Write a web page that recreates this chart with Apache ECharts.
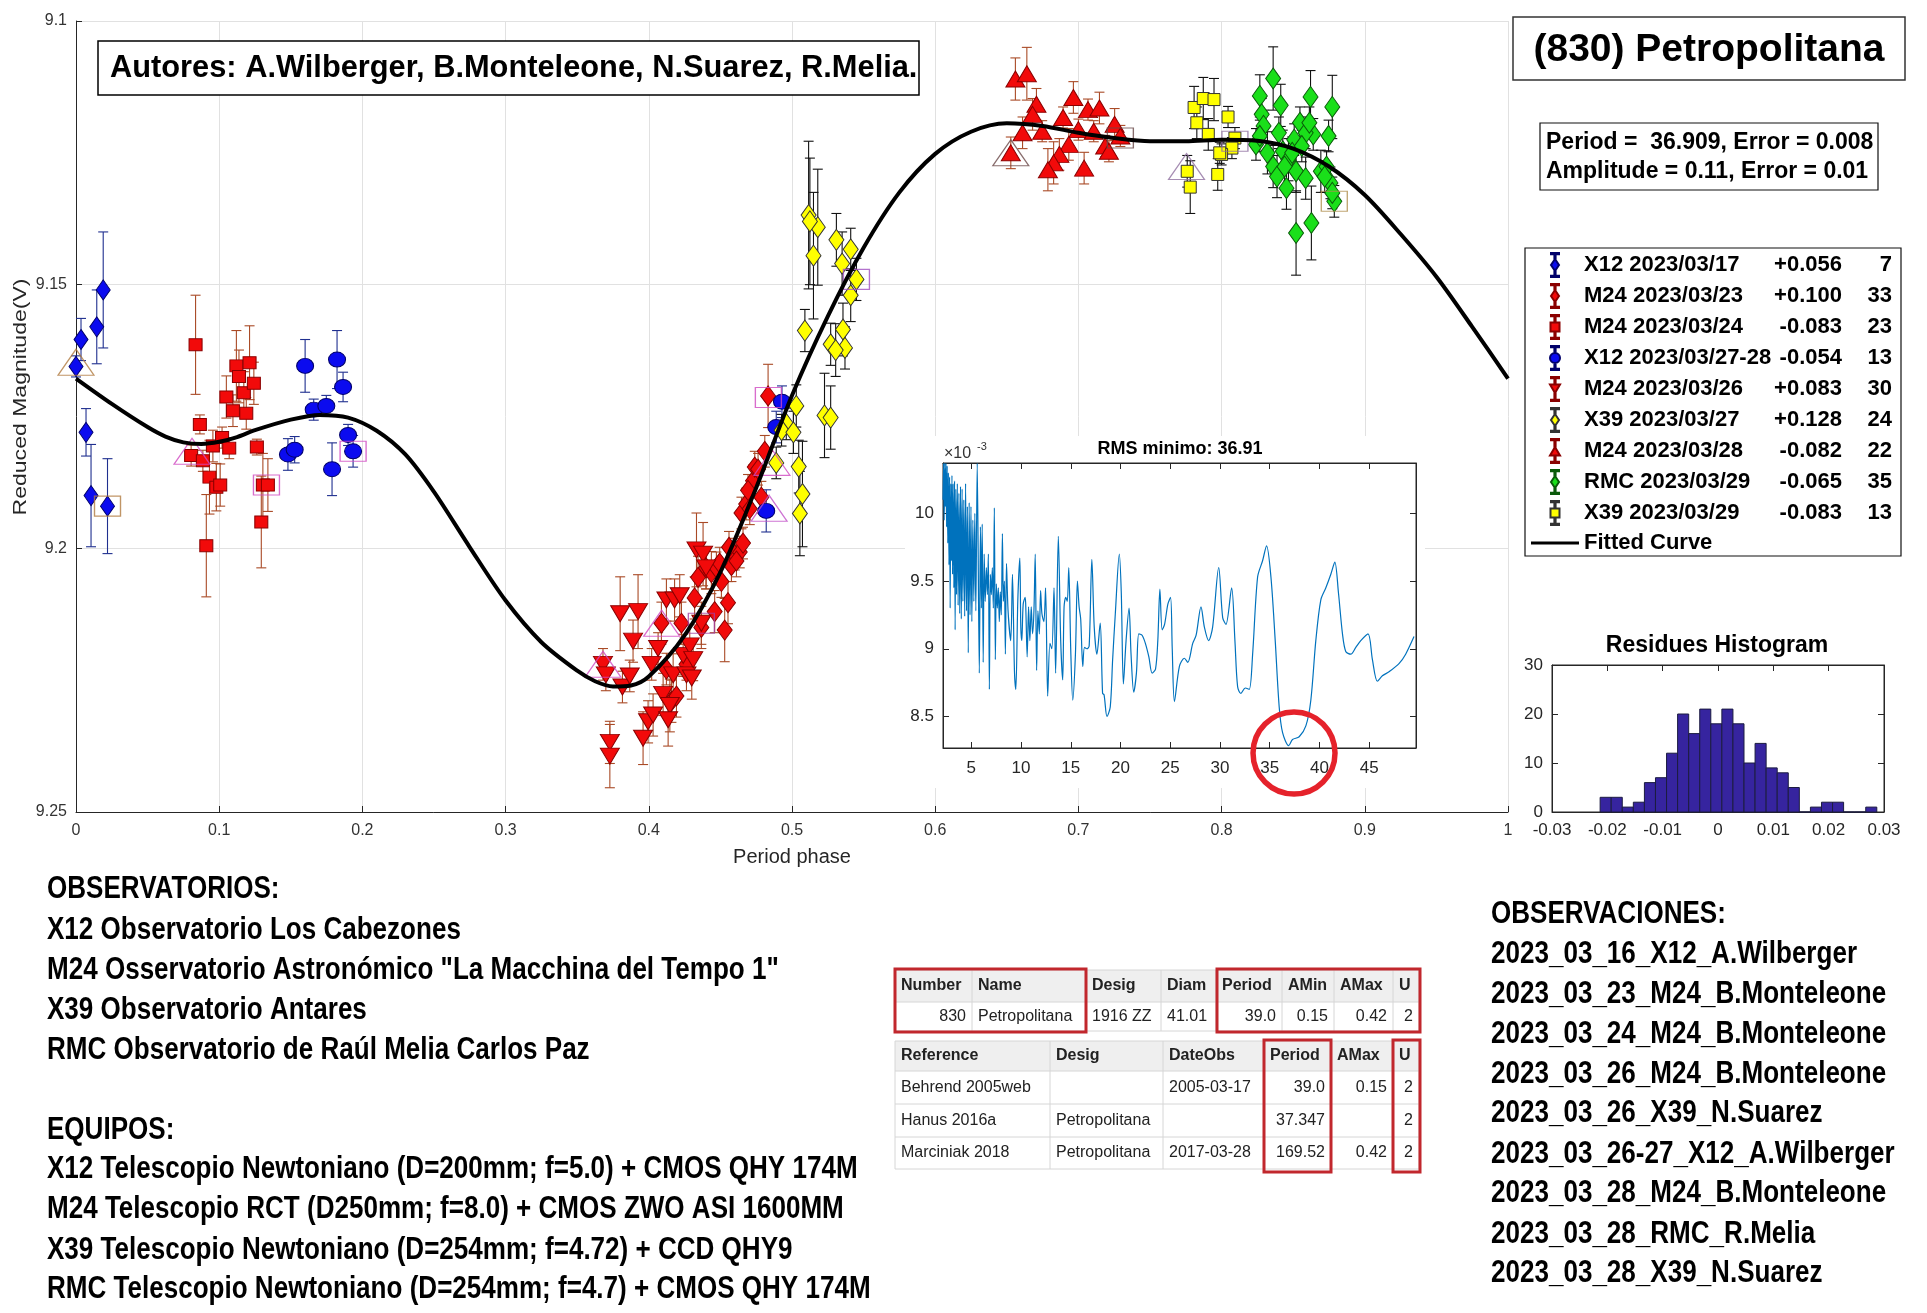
<!DOCTYPE html>
<html><head><meta charset="utf-8">
<script src="https://cdn.jsdelivr.net/npm/echarts@6/dist/echarts.min.js"></script>
<style>html,body{margin:0;padding:0;background:#fff}#c{width:1927px;height:1313px}</style>
</head><body><div id="c"></div>
<script>
// ---------------- DATA ----------------
// [phase, reduced magnitude, error]
const x12_0317 = [[0.000,9.1655,0.002],[0.0035,9.1604,0.004],[0.007,9.178,0.0045],[0.0105,9.190,0.0097],[0.0145,9.158,0.007],[0.019,9.151,0.011],[0.022,9.192,0.009]];
const m24_0323 = [[0.4088,9.2142,0.004],[0.4123,9.2229,0.003],[0.4158,9.229,0.004],[0.4193,9.228,0.004],[0.4228,9.2142,0.004],[0.4263,9.222,0.003],[0.432,9.2094,0.004],[0.4344,9.2055,0.004],[0.4367,9.215,0.004],[0.440,9.2037,0.004],[0.4437,9.2046,0.004],[0.446,9.212,0.004],[0.4472,9.2037,0.003],[0.4507,9.2063,0.003],[0.453,9.2155,0.006],[0.4553,9.2103,0.004],[0.4577,9.2033,0.003],[0.46,9.2011,0.003],[0.4635,9.2007,0.003],[0.4658,9.199,0.003],[0.4647,9.1933,0.003],[0.468,9.1916,0.003],[0.4705,9.1925,0.003],[0.4728,9.1872,0.003],[0.474,9.1846,0.003],[0.4763,9.185,0.003],[0.4786,9.1903,0.003],[0.481,9.1816,0.003],[0.4833,9.1711,0.006],[0.4612,9.2024,0.003],[0.4495,9.2028,0.003],[0.456,9.1998,0.003],[0.4693,9.189,0.003]];
const m24_0324 = [[0.0835,9.1614,0.0094],[0.0865,9.1765,0.0018],[0.0804,9.1824,0.002],[0.0886,9.1834,0.002],[0.091,9.1995,0.0097],[0.0932,9.1865,0.007],[0.0956,9.1806,0.003],[0.098,9.1884,0.0045],[0.1007,9.188,0.004],[0.102,9.179,0.002],[0.105,9.1713,0.004],[0.107,9.181,0.002],[0.1096,9.1739,0.003],[0.112,9.1654,0.0067],[0.1138,9.1674,0.005],[0.1172,9.1705,0.004],[0.1189,9.1744,0.003],[0.1212,9.1648,0.007],[0.1242,9.1687,0.004],[0.1263,9.1808,0.0015],[0.1294,9.195,0.0087],[0.1305,9.188,0.006],[0.134,9.188,0.005]];
const x12_0327 = [[0.148,9.1822,0.003],[0.1527,9.1813,0.0025],[0.16,9.1654,0.005],[0.166,9.1737,0.002],[0.1748,9.173,0.002],[0.1788,9.185,0.005],[0.1823,9.1642,0.0055],[0.1865,9.1694,0.0028],[0.19,9.1785,0.002],[0.1935,9.1816,0.003],[0.493,9.1722,0.003],[0.489,9.177,0.003],[0.482,9.1929,0.004]];
const m24_0326 = [[0.368,9.222,0.003],[0.370,9.224,0.003],[0.3728,9.2368,0.004],[0.3728,9.2394,0.006],[0.380,9.2124,0.007],[0.3816,9.2263,0.003],[0.3867,9.2242,0.003],[0.389,9.2176,0.004],[0.3925,9.212,0.007],[0.396,9.236,0.005],[0.3995,9.2329,0.004],[0.402,9.222,0.003],[0.4065,9.219,0.003],[0.410,9.2277,0.004],[0.4123,9.2098,0.004],[0.4147,9.2298,0.005],[0.417,9.224,0.004],[0.418,9.2098,0.004],[0.4216,9.209,0.004],[0.424,9.2203,0.004],[0.4263,9.224,0.003],[0.4286,9.2185,0.004],[0.430,9.2246,0.004],[0.4333,9.2003,0.007],[0.4367,9.2142,0.004],[0.4379,9.2011,0.006],[0.440,9.2037,0.004],[0.403,9.2316,0.004],[0.4135,9.2325,0.005],[0.431,9.2211,0.004]];
const x39_0327 = [[0.5116,9.1368,0.014],[0.518,9.1391,0.011],[0.515,9.1445,0.012],[0.531,9.1415,0.005],[0.541,9.1433,0.004],[0.535,9.146,0.006],[0.545,9.149,0.004],[0.541,9.152,0.005],[0.509,9.1587,0.004],[0.5356,9.1585,0.005],[0.527,9.1613,0.004],[0.537,9.162,0.004],[0.5305,9.1624,0.005],[0.5227,9.1748,0.008],[0.527,9.1752,0.006],[0.503,9.173,0.004],[0.496,9.1764,0.003],[0.4927,9.1776,0.003],[0.501,9.178,0.004],[0.489,9.1838,0.003],[0.5047,9.1845,0.005],[0.5073,9.1897,0.010],[0.5055,9.1934,0.008],[0.5125,9.1380,0.012]];
const m24_0328 = [[0.656,9.111,0.004],[0.664,9.110,0.005],[0.6707,9.1158,0.003],[0.668,9.1177,0.003],[0.661,9.1212,0.003],[0.6747,9.1209,0.002],[0.6528,9.125,0.003],[0.6893,9.1183,0.002],[0.6965,9.1145,0.003],[0.7067,9.1168,0.002],[0.7147,9.1165,0.003],[0.70,9.1206,0.002],[0.6933,9.1234,0.003],[0.6867,9.1253,0.003],[0.6827,9.1269,0.004],[0.6787,9.1282,0.004],[0.704,9.1279,0.003],[0.7107,9.1209,0.002],[0.7187,9.1237,0.002],[0.7253,9.1196,0.003],[0.7213,9.1247,0.002],[0.7293,9.1218,0.002]];
const rmc_0329 = [[0.8267,9.1142,0.004],[0.836,9.1109,0.006],[0.8413,9.116,0.004],[0.828,9.1177,0.003],[0.8621,9.1144,0.005],[0.8773,9.1163,0.006],[0.8293,9.1199,0.003],[0.84,9.1212,0.003],[0.824,9.1234,0.003],[0.832,9.125,0.004],[0.8547,9.1193,0.003],[0.864,9.1215,0.003],[0.8747,9.1218,0.003],[0.8587,9.1212,0.003],[0.8507,9.1225,0.003],[0.8427,9.1247,0.004],[0.8467,9.1263,0.004],[0.836,9.1276,0.004],[0.8387,9.1295,0.004],[0.8453,9.1317,0.004],[0.852,9.1285,0.004],[0.8587,9.1298,0.004],[0.8693,9.1285,0.004],[0.8733,9.1276,0.003],[0.876,9.1307,0.003],[0.8787,9.1342,0.003],[0.852,9.1402,0.008],[0.8627,9.1383,0.007],[0.8493,9.125,0.003],[0.856,9.1237,0.003],[0.8613,9.1193,0.003],[0.8267,9.1218,0.003],[0.844,9.1276,0.004],[0.872,9.1295,0.003],[0.8773,9.1326,0.003]];
const x39_0329 = [[0.7808,9.1164,0.004],[0.7872,9.1147,0.004],[0.7947,9.1149,0.004],[0.7827,9.1193,0.003],[0.7907,9.1215,0.003],[0.8045,9.1182,0.002],[0.8093,9.1222,0.002],[0.8072,9.1241,0.002],[0.80,9.1253,0.002],[0.776,9.1285,0.003],[0.7781,9.1315,0.005],[0.7973,9.1291,0.003],[0.7987,9.125,0.002]];

// hollow session markers
const markTri = [[0,9.1647],[0.081,9.1816],[0.368,9.222],[0.409,9.2142],[0.486,9.1837],[0.484,9.1924],[0.6528,9.125],[0.7755,9.1276]];
const markTriColors = ['#b07a40','#d048c0','#d048c0','#d048c0','#d048c0','#c050c8','#6a4848','#9070a0'];
const markSq = [[0.022,9.192],[0.133,9.188],[0.1935,9.1816],[0.4367,9.2142],[0.4835,9.1714],[0.545,9.149],[0.7293,9.1222],[0.8093,9.1228],[0.8787,9.1342]];
const markSqColors = ['#b07a40','#d048c0','#d048c0','#a040a0','#d048c0','#a050c0','#6a4848','#9070a0','#b09050'];

// fitted curve [phase, magnitude]
const curvePts = [[0,9.1678],[0.025,9.1726],[0.05,9.1770],[0.0625,9.1788],[0.075,9.1799],[0.0875,9.1802],[0.1,9.1798],[0.1125,9.1789],[0.125,9.1776],[0.15,9.1756],[0.17,9.1747],[0.19,9.1752],[0.21,9.1777],[0.23,9.1822],[0.25,9.1893],[0.275,9.1998],[0.3,9.2099],[0.325,9.2178],[0.35,9.2232],[0.3625,9.2252],[0.375,9.2262],[0.3875,9.2260],[0.4,9.2243],[0.425,9.2165],[0.45,9.2045],[0.475,9.1885],[0.5,9.1710],[0.525,9.1560],[0.55,9.1430],[0.575,9.1325],[0.6,9.1252],[0.625,9.1210],[0.65,9.1194],[0.675,9.1199],[0.7,9.1212],[0.725,9.1222],[0.75,9.1228],[0.775,9.1228],[0.8,9.1225],[0.825,9.1227],[0.85,9.1242],[0.875,9.1276],[0.9,9.1330],[0.925,9.1404],[0.95,9.1485],[0.975,9.1580],[1.0,9.1678]];

// RMS vs period (x1e-3)
const rmsPts = [[2.16,10.10],[2.22,10.37],[2.28,9.95],[2.34,10.37],[2.40,10.05],[2.46,10.37],[2.52,9.90],[2.58,10.35],[2.64,9.78],[2.70,10.30],[2.76,9.62],[2.82,10.27],[2.88,9.30],[2.94,10.22],[3.00,9.65],[3.06,10.28],[3.12,9.55],[3.18,10.22],[3.25,9.45],[3.32,10.24],[3.38,9.14],[3.45,10.18],[3.52,9.40],[3.60,10.22],[3.68,9.32],[3.76,10.15],[3.84,9.26],[3.92,10.20],[4.00,9.22],[4.08,10.18],[4.16,9.35],[4.25,10.10],[4.34,9.24],[4.43,10.22],[4.52,9.28],[4.61,10.05],[4.70,8.97],[4.79,10.08],[4.88,9.25],[4.97,10.05],[5.06,9.20],[5.16,9.95],[5.26,9.35],[5.36,10.00],[5.46,9.28],[5.60,10.37],[5.81,8.82],[5.92,9.90],[6.02,9.30],[6.10,9.92],[6.20,8.90],[6.30,9.70],[6.40,9.35],[6.52,9.60],[6.62,9.40],[6.72,9.70],[6.82,8.70],[6.92,9.55],[7.02,9.40],[7.12,9.60],[7.22,9.30],[7.32,10.04],[7.42,8.92],[7.52,9.48],[7.62,9.30],[7.72,9.45],[7.82,9.20],[7.92,9.42],[8.02,9.25],[8.13,9.85],[8.23,9.35],[8.33,9.50],[8.43,8.96],[8.54,9.63],[8.70,9.28],[8.97,9.06],[9.14,9.55],[9.34,8.84],[9.48,8.70],[9.68,9.36],[9.88,9.67],[9.98,9.16],[10.08,9.06],[10.22,9.33],[10.42,9.38],[10.49,9.28],[10.62,8.94],[10.76,9.31],[10.89,9.06],[11.03,9.31],[11.16,9.11],[11.30,9.28],[11.43,9.70],[11.57,8.84],[11.70,9.28],[11.84,9.11],[11.97,9.43],[12.10,9.26],[12.30,9.20],[12.47,9.45],[12.68,8.65],[12.91,9.04],[13.10,9.00],[13.32,9.45],[13.48,8.82],[13.75,9.83],[13.99,9.06],[14.19,8.77],[14.33,9.31],[14.50,9.38],[14.65,9.35],[14.80,9.60],[15.00,8.99],[15.20,8.62],[15.47,8.96],[15.67,9.50],[15.84,9.31],[16.0,9.22],[16.21,8.87],[16.38,9.01],[16.62,9.00],[16.85,9.02],[17.12,9.66],[17.36,9.16],[17.63,8.96],[17.96,9.19],[18.2,8.67],[18.35,8.66],[18.64,8.50],[18.97,8.57],[19.21,8.92],[19.48,9.26],[19.88,9.70],[20.08,9.41],[20.29,8.74],[20.56,9.06],[20.86,9.30],[21.06,8.96],[21.33,8.68],[21.6,8.82],[21.84,9.11],[22.17,9.10],[22.5,9.04],[22.85,8.94],[23.18,8.82],[23.52,8.85],[23.75,9.06],[23.96,9.44],[24.19,9.14],[24.43,9.18],[24.76,9.33],[25.03,9.38],[25.2,9.0],[25.42,8.61],[25.92,8.87],[26.42,8.93],[26.76,8.90],[27.26,9.04],[27.6,9.10],[28.09,9.31],[28.43,9.16],[28.86,9.06],[29.26,9.16],[29.87,9.60],[30.27,9.23],[30.6,9.18],[31.17,9.45],[31.5,9.06],[31.77,8.72],[32.1,8.67],[32.54,8.71],[32.94,8.70],[33.28,8.96],[33.78,9.53],[34.28,9.65],[34.68,9.76],[35.12,9.53],[35.55,9.06],[35.95,8.57],[36.29,8.38],[36.91,8.285],[37.29,8.33],[37.96,8.35],[38.63,8.43],[39.13,8.62],[39.63,9.06],[40.13,9.36],[40.64,9.45],[41.14,9.55],[41.54,9.64],[41.91,9.41],[42.31,9.11],[42.64,8.98],[43.14,8.96],[43.65,9.01],[44.15,9.06],[44.88,9.11],[45.32,8.92],[45.82,8.76],[46.32,8.80],[46.99,8.83],[47.99,8.89],[48.66,8.96],[49.5,9.09]];
const rmsMinMark = [[37.44, 8.23]];
const rmsTicksX = [5,10,15,20,25,30,35,40,45];
const rmsTicksY = [8.5,9,9.5,10];

// residues histogram: bin left edge, bin right edge, count
const histLeft  = [-0.0213,-0.0193,-0.0173,-0.0153,-0.0133,-0.0113,-0.0093,-0.0073,-0.0053,-0.0033,-0.0013,0.0007,0.0027,0.0047,0.0067,0.0087,0.0107,0.0127,0.0147,0.0167,0.0187,0.0207,0.0227,0.0247,0.0267];
const histRight = [-0.0193,-0.0173,-0.0153,-0.0133,-0.0113,-0.0093,-0.0073,-0.0053,-0.0033,-0.0013,0.0007,0.0027,0.0047,0.0067,0.0087,0.0107,0.0127,0.0147,0.0167,0.0187,0.0207,0.0227,0.0247,0.0267,0.0287];
const histCounts = [3,3,1,2,6,7,12,20,16,21,18,21,18,10,14,9,8,5,0,1,2,2,0,0,1];

const legendNames = ['X12 2023/03/17','M24 2023/03/23','M24 2023/03/24','X12 2023/03/27-28','M24 2023/03/26','X39 2023/03/27','M24 2023/03/28','RMC 2023/03/29','X39 2023/03/29'];
const legendOffsets = ['+0.056','+0.100','-0.083','-0.054','+0.083','+0.128','-0.082','-0.065','-0.083'];
const legendCounts = ['7','33','23','13','30','24','22','35','13'];

const titleText = '(830) Petropolitana';
const authorsText = 'Autores: A.Wilberger, B.Monteleone, N.Suarez, R.Melia.';
const fitLines = ['Period =  36.909, Error = 0.008','Amplitude = 0.11, Error = 0.01'];
const rmsTitle = 'RMS minimo: 36.91';
const histTitle = 'Residues Histogram';
const yName = 'Reduced Magnitude(V)';
const obsLines = ['OBSERVATORIOS:','X12 Observatorio Los Cabezones','M24 Osservatorio Astronómico "La Macchina del Tempo 1"','X39 Observatorio Antares','RMC Observatorio de Raúl Melia Carlos Paz'];
const equipLines = ['EQUIPOS:','X12 Telescopio Newtoniano (D=200mm; f=5.0) + CMOS QHY 174M','M24 Telescopio RCT (D250mm; f=8.0) + CMOS ZWO ASI 1600MM','X39 Telescopio Newtoniano (D=254mm; f=4.72) + CCD QHY9','RMC Telescopio Newtoniano (D=254mm; f=4.7) + CMOS QHY 174M'];
const obsvLines = ['OBSERVACIONES:','2023_03_16_X12_A.Wilberger','2023_03_23_M24_B.Monteleone','2023_03_24_M24_B.Monteleone','2023_03_26_M24_B.Monteleone','2023_03_26_X39_N.Suarez','2023_03_26-27_X12_A.Wilberger','2023_03_28_M24_B.Monteleone','2023_03_28_RMC_R.Melia','2023_03_28_X39_N.Suarez'];
const t1Header = ['Number','Name','Desig','Diam','Period','AMin','AMax','U'];
const t1Row = ['830','Petropolitana','1916 ZZ','41.01','39.0','0.15','0.42','2'];
const t2Header = ['Reference','Desig','DateObs','Period','AMax','U'];
const t2Rows = [['Behrend 2005web','','2005-03-17','39.0','0.15','2'],['Hanus 2016a','Petropolitana','','37.347','','2'],['Marciniak 2018','Petropolitana','2017-03-28','169.52','0.42','2']];

// ---------------- CHART ----------------
const FONT = "'Liberation Sans', Arial, Helvetica, sans-serif";
const AX = '#262626';

const groups = [
  {data:x12_0317, symbol:'diamond', size:[14,20], rot:0, color:'#0b0bef', border:'#00006a', err:'#1f2f8f'},
  {data:m24_0323, symbol:'diamond', size:[15,20], rot:0, color:'#f20a0a', border:'#8a0000', err:'#a94a26'},
  {data:m24_0324, symbol:'rect', size:[13,12], rot:0, color:'#f20a0a', border:'#8a0000', err:'#a94a26'},
  {data:x12_0327, symbol:'circle', size:[17,15], rot:0, color:'#0b0bef', border:'#00006a', err:'#1f2f8f'},
  {data:m24_0326, symbol:'triangle', size:[19,16], rot:180, color:'#f20a0a', border:'#8a0000', err:'#a94a26'},
  {data:x39_0327, symbol:'diamond', size:[15,21], rot:0, color:'#ffff00', border:'#333333', err:'#111111'},
  {data:m24_0328, symbol:'triangle', size:[19,16], rot:0, color:'#f20a0a', border:'#8a0000', err:'#a94a26'},
  {data:rmc_0329, symbol:'diamond', size:[15,21], rot:0, color:'#1adf1a', border:'#0a5a0a', err:'#111111'},
  {data:x39_0329, symbol:'rect', size:[12,12], rot:0, color:'#ffff00', border:'#333333', err:'#111111'}
];
const icons = {
  diamond:'path://M4,0H12V1.2H8.6V6H7.4V1.2H4Z M8,6L12,12L8,18L4,12Z M7.4,18H8.6V22.8H12V24H4V22.8H7.4Z',
  rect:'path://M4,0H12V1.2H8.6V7.5H7.4V1.2H4Z M3.5,7.5H12.5V16.5H3.5Z M7.4,16.5H8.6V22.8H12V24H4V22.8H7.4Z',
  circle:'path://M4,0H12V1.2H8.6V7H7.4V1.2H4Z M3,12A5,5 0 1,0 13,12A5,5 0 1,0 3,12Z M7.4,17H8.6V22.8H12V24H4V22.8H7.4Z',
  down:'path://M4,0H12V1.2H8.6V7.5H7.4V1.2H4Z M3,7.5H13L8,16Z M7.4,16H8.6V22.8H12V24H4V22.8H7.4Z',
  up:'path://M4,0H12V1.2H8.6V8H7.4V1.2H4Z M8,8L13,16.5H3Z M7.4,16.5H8.6V22.8H12V24H4V22.8H7.4Z'
};
function iconFor(g){ if (g.symbol==='triangle') return g.rot ? icons.down : icons.up; return icons[g.symbol]; }

function errRender(params, api){
  const x = api.value(0), y = api.value(1), e = api.value(2);
  const a = api.coord([x, y - e]), b = api.coord([x, y + e]);
  const cap = 5;
  const st = {stroke: api.visual('color'), lineWidth: 1.1, fill: null};
  return {type:'group', children:[
    {type:'line', shape:{x1:a[0], y1:a[1], x2:b[0], y2:b[1]}, style:st},
    {type:'line', shape:{x1:a[0]-cap, y1:a[1], x2:a[0]+cap, y2:a[1]}, style:st},
    {type:'line', shape:{x1:b[0]-cap, y1:b[1], x2:b[0]+cap, y2:b[1]}, style:st}
  ]};
}

const series = [];
groups.forEach((g, i) => {
  series.push({type:'custom', name: legendNames[i] + ' err', xAxisIndex:0, yAxisIndex:0, data:g.data,
    encode:{x:0, y:1}, renderItem: errRender, itemStyle:{color:g.err}, z:2, silent:true});
});
groups.forEach((g, i) => {
  series.push({type:'scatter', name: legendNames[i], xAxisIndex:0, yAxisIndex:0, data:g.data,
    symbol:g.symbol, symbolSize:g.size, symbolRotate:g.rot,
    itemStyle:{color:g.color, borderColor:g.border, borderWidth:1, opacity:1}, z:3});
});
series.push({type:'scatter', name:'markTri', xAxisIndex:0, yAxisIndex:0, symbol:'triangle', symbolSize:[36,26],
  data: markTri.map((p,i)=>({value:p, itemStyle:{borderColor:markTriColors[i]}})),
  itemStyle:{color:'rgba(0,0,0,0)', borderWidth:1.2}, z:4, silent:true});
series.push({type:'scatter', name:'markSq', xAxisIndex:0, yAxisIndex:0, symbol:'rect', symbolSize:[26,20],
  data: markSq.map((p,i)=>({value:p, itemStyle:{borderColor:markSqColors[i]}})),
  itemStyle:{color:'rgba(0,0,0,0)', borderWidth:1.2}, z:4, silent:true});
series.push({type:'line', name:'Fitted Curve', xAxisIndex:0, yAxisIndex:0, data:curvePts, smooth:0.3,
  symbol:'none', lineStyle:{color:'#000', width:4}, itemStyle:{color:'#000'}, z:6});
// inset RMS
series.push({type:'line', name:'rms', xAxisIndex:1, yAxisIndex:1, data:rmsPts, smooth:0.3, symbol:'none',
  lineStyle:{color:'#0072BD', width:1.2}, z:6, silent:true});
series.push({type:'custom', name:'rmsMin', xAxisIndex:1, yAxisIndex:1, data:rmsMinMark, clip:false, z:30, silent:true,
  renderItem:(p, api)=>{ const c = api.coord([api.value(0), api.value(1)]);
    return {type:'circle', shape:{cx:c[0], cy:c[1], r:41}, style:{fill:null, stroke:'#e5222b', lineWidth:5.5}}; }});
// histogram
series.push({type:'custom', name:'hist', xAxisIndex:3, yAxisIndex:3,
  data: histCounts.map((c,i)=>[histLeft[i], histRight[i], c]), encode:{x:[0,1], y:2}, z:5, silent:true,
  renderItem:(p, api)=>{ const p0 = api.coord([api.value(0), api.value(2)]); const p1 = api.coord([api.value(1), 0]);
    return {type:'rect', shape:{x:p0[0], y:p0[1], width:p1[0]-p0[0], height:p1[1]-p0[1]},
      style:{fill:'#36249f', stroke:'#1c1c40', lineWidth:1}}; }});

// legend
const legendData = groups.map((g,i)=>({name:legendNames[i], icon:iconFor(g)}));
legendData.push({name:'Fitted Curve', icon:'path://M0,0H48V3.2H0Z'});

// graphic
const G = [];
function txt(x, y, text, font, opt, el){
  G.push(Object.assign({type:'text', z:12, silent:true, x:x, y:y, style:Object.assign({x:0, y:0, text:text, font:font, fill:'#000',
    textAlign:'left', textVerticalAlign:'middle', align:'left', verticalAlign:'middle'}, opt||{})}, el||{}));
}
function rect(x, y, w, h, style, z){ G.push({type:'rect', z:z==null?11:z, silent:true, shape:{x:x, y:y, width:w, height:h}, style:style}); }

// white panel under the inset
rect(905, 436, 520, 352, {fill:'#fff', stroke:null}, 1);
// y axis name (stretched like the original)
txt(21, 397, yName, "18px " + FONT, {fill:AX, textAlign:'center', align:'center'}, {rotation:Math.PI/2, scaleX:1.28});
// authors box
rect(98, 41, 821, 54, {fill:'#fff', stroke:'#000', lineWidth:1.5}, 10);
txt(110, 69, authorsText, "bold 30.8px " + FONT);
// title box
rect(1513, 17, 392, 63, {fill:null, stroke:'#333', lineWidth:1.5}, 10);
txt(1709, 50, titleText, "bold 39px " + FONT, {textAlign:'center', align:'center'});
// period box
rect(1540, 123, 338, 67, {fill:null, stroke:'#111', lineWidth:1.2}, 10);
txt(1546, 143, fitLines[0], "bold 23px " + FONT);
txt(1546, 172, fitLines[1], "bold 23px " + FONT);
// legend box
rect(1525, 248, 376, 308, {fill:null, stroke:'#111', lineWidth:1.2}, 10);
// inset titles
txt(1180, 449, rmsTitle, "bold 18px " + FONT, {textAlign:'center', align:'center'});
txt(944, 454, '×10', "16px " + FONT, {fill:'#333'});
txt(977, 447, '-3', "11px " + FONT, {fill:'#333'});
txt(1717, 646, histTitle, "bold 23px " + FONT, {textAlign:'center', align:'center'});
// bottom texts (condensed look)
const COND = {scaleX:0.84};
const leftY = [889, 930, 970, 1010, 1050];
obsLines.forEach((s,i)=>txt(47, leftY[i], s, "bold 31px " + FONT, null, COND));
const eqY = [1130, 1169, 1209, 1250, 1289];
equipLines.forEach((s,i)=>txt(47, eqY[i], s, "bold 31px " + FONT, null, COND));
const rY = [914, 954, 994, 1034, 1074, 1113, 1154, 1193, 1234, 1273];
obsvLines.forEach((s,i)=>txt(1491, rY[i], s, "bold 31px " + FONT, null, COND));
// tables
function table(cols, rowsY, header, rows, aligns){
  rect(cols[0], rowsY[0], cols[cols.length-1]-cols[0], rowsY[1]-rowsY[0], {fill:'#efefef', stroke:null}, 9);
  for (let r=0; r<rowsY.length; r++) G.push({type:'line', z:10, silent:true, shape:{x1:cols[0], y1:rowsY[r], x2:cols[cols.length-1], y2:rowsY[r]}, style:{stroke:'#d6d6d6', lineWidth:1}});
  for (let c=0; c<cols.length; c++) G.push({type:'line', z:10, silent:true, shape:{x1:cols[c], y1:rowsY[0], x2:cols[c], y2:rowsY[rowsY.length-1]}, style:{stroke:'#d6d6d6', lineWidth:1}});
  header.forEach((h,c)=>txt(cols[c]+6, (rowsY[0]+rowsY[1])/2, h, "bold 16px " + FONT, {fill:'#222'}));
  rows.forEach((row, r)=>row.forEach((v,c)=>{
    const yc = (rowsY[r+1]+rowsY[r+2])/2;
    if (aligns[c]==='r') txt(cols[c+1]-6, yc, v, "16px " + FONT, {fill:'#222', textAlign:'right', align:'right'});
    else txt(cols[c]+6, yc, v, "16px " + FONT, {fill:'#222'});
  }));
}
table([895,972,1086,1161,1216,1282,1334,1393,1419], [970,1002,1031], t1Header, [t1Row], ['r','l','l','l','r','r','r','r']);
table([895,1050,1163,1264,1331,1393,1419], [1041,1071,1104,1137,1169], t2Header, t2Rows, ['l','l','l','r','r','r']);
const RED = '#c1272d';
rect(895, 969, 191, 63, {fill:null, stroke:RED, lineWidth:3}, 13);
rect(1217, 969, 203, 63, {fill:null, stroke:RED, lineWidth:3}, 13);
rect(1264, 1040, 67, 132, {fill:null, stroke:RED, lineWidth:3}, 13);
rect(1393, 1040, 27, 132, {fill:null, stroke:RED, lineWidth:3}, 13);

const lblMain = {color:'#333', fontFamily:FONT, fontSize:16};
const lblSub = {color:AX, fontFamily:FONT, fontSize:17};
const tickIn = {inside:true, length:6, lineStyle:{color:AX}};
const axLine = {show:true, onZero:false, lineStyle:{color:AX}};
const option = {
  animation:false,
  backgroundColor:'#fff',
  textStyle:{fontFamily:FONT},
  grid:[
    {left:76, top:21, width:1432, height:791, show:false, z:0},
    {left:943, top:463, width:473, height:285, show:true, backgroundColor:'#fff', borderColor:AX, borderWidth:1, z:3},
    {left:1552, top:665, width:332, height:147, show:true, backgroundColor:'#fff', borderColor:AX, borderWidth:1, z:3}
  ],
  xAxis:[
    {type:'value', gridIndex:0, min:0, max:1, interval:0.1, z:0,
     axisLine:axLine, axisTick:tickIn, splitLine:{show:true, lineStyle:{color:'#e1e1e1'}},
     axisLabel:Object.assign({margin:11, formatter:v=>String(Math.round(v*10)/10)}, lblMain),
     name:'Period phase', nameLocation:'middle', nameGap:35, nameTextStyle:{color:AX, fontSize:20, fontFamily:FONT}},
    {type:'value', gridIndex:1, min:2.16, max:49.7, z:4, axisLine:axLine,
     axisTick:Object.assign({customValues:rmsTicksX}, tickIn), splitLine:{show:false},
     axisLabel:Object.assign({customValues:rmsTicksX, margin:12}, lblSub)},
    {type:'value', gridIndex:1, position:'top', min:2.16, max:49.7, z:4, axisLine:axLine,
     axisTick:Object.assign({customValues:rmsTicksX}, tickIn), splitLine:{show:false}, axisLabel:{show:false}},
    {type:'value', gridIndex:2, min:-0.03, max:0.03, interval:0.01, z:4, axisLine:axLine,
     axisTick:tickIn, splitLine:{show:false},
     axisLabel:Object.assign({margin:10, formatter:v=>Math.abs(v)<1e-9?'0':(Math.round(v*100)/100).toFixed(2)}, lblSub)},
    {type:'value', gridIndex:2, position:'top', min:-0.03, max:0.03, interval:0.01, z:4, axisLine:axLine,
     axisTick:tickIn, splitLine:{show:false}, axisLabel:{show:false}}
  ],
  yAxis:[
    {type:'value', gridIndex:0, inverse:true, min:9.1, max:9.25, interval:0.05, z:0,
     axisLine:axLine, axisTick:Object.assign({show:true}, tickIn),
     splitLine:{show:true, lineStyle:{color:'#e1e1e1'}},
     axisLabel:Object.assign({margin:9, formatter:v=>String(Math.round(v*100)/100)}, lblMain)},
    {type:'value', gridIndex:1, min:8.267, max:10.372, z:4, axisLine:axLine,
     axisTick:Object.assign({show:true, customValues:rmsTicksY}, tickIn), splitLine:{show:false},
     axisLabel:Object.assign({customValues:rmsTicksY, margin:9, formatter:v=>String(v)}, lblSub)},
    {type:'value', gridIndex:1, position:'right', min:8.267, max:10.372, z:4, axisLine:axLine,
     axisTick:Object.assign({show:true, customValues:rmsTicksY}, tickIn), splitLine:{show:false}, axisLabel:{show:false}},
    {type:'value', gridIndex:2, min:0, max:30, interval:10, z:4, axisLine:axLine,
     axisTick:Object.assign({show:true}, tickIn), splitLine:{show:false},
     axisLabel:Object.assign({margin:9}, lblSub)},
    {type:'value', gridIndex:2, position:'right', min:0, max:30, interval:10, z:4, axisLine:axLine,
     axisTick:Object.assign({show:true}, tickIn), splitLine:{show:false}, axisLabel:{show:false}}
  ],
  legend:{
    left:1531, top:252, orient:'vertical', itemWidth:48, itemHeight:24, itemGap:5.0, padding:0,
    selectedMode:false, symbolKeepAspect:true, data:legendData,
    formatter:function(name){
      const i = legendNames.indexOf(name);
      if (i < 0) return '{a|' + name + '}';
      return '{a|' + name + '}{b|' + legendOffsets[i] + '}{c|' + legendCounts[i] + '}';
    },
    textStyle:{fontFamily:FONT, fontWeight:'bold', fontSize:22, lineHeight:24, color:'#000',
      rich:{a:{width:196, lineHeight:24, fontFamily:FONT, fontWeight:'bold', fontSize:22, color:'#000'},
            b:{width:62, lineHeight:24, align:'right', fontFamily:FONT, fontWeight:'bold', fontSize:22, color:'#000'},
            c:{width:50, lineHeight:24, align:'right', fontFamily:FONT, fontWeight:'bold', fontSize:22, color:'#000'}}}
  },
  graphic:{elements:G},
  series:series
};
const chart = echarts.init(document.getElementById('c'), null, {renderer:'canvas'});
chart.setOption(option);
</script></body></html>
